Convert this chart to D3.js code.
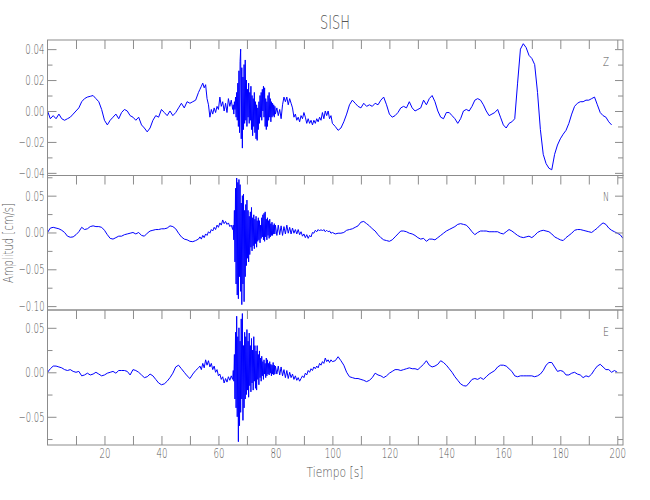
<!DOCTYPE html>
<html><head><meta charset="utf-8">
<script src="https://cdn.jsdelivr.net/npm/d3@7"></script>
<style>
html,body{margin:0;padding:0;background:#fff;}
svg{display:block;}
</style></head><body>
<svg id="chart" width="650" height="500"></svg>
<script>
// ---- sampling grid of the five segments (start time, step in s) ----
const segStart = [0, 53.5, 65.2, 80.5, 101];
const segStep  = [1, 0.5, 0.2, 0.5, 1];

// ---- Z component (cm/s) ----
const zQuiet = [0.000,-0.005,-0.003,-0.005,-0.002,-0.005,-0.006,-0.005,-0.004,-0.002,
0.000,0.002,0.006,0.008,0.009,0.0095,0.010,0.008,0.006,0.001,
-0.006,-0.009,-0.006,-0.004,-0.002,-0.005,-0.001,0.001,0.000,-0.003,
-0.004,-0.006,-0.004,-0.009,-0.011,-0.0135,-0.011,-0.006,-0.003,-0.004,
0.001,-0.001,-0.003,0.000,-0.003,-0.001,0.002,0.005,0.002,0.006,
0.005,0.006,0.007,0.012];
const zOnset = [0.014,0.016,0.018,0.015,0.017,0.008,0.004,-0.004,0.001,-0.002,0.002,-0.001,0.003,0.001,0.009,0.003,0.006,0.000,0.005,-0.001,0.008,0.003,0.007,0.001];
const zBurst = [0.004,-0.002,0.006,0.001,0.009,-0.004,0.012,-0.006,0.018,-0.010,
0.026,-0.014,0.032,0.040,-0.018,0.028,-0.024,0.022,-0.012,0.030,
-0.008,0.033,-0.006,0.020,-0.010,0.014,-0.004,0.018,-0.008,0.012,
-0.006,0.016,-0.012,0.010,-0.016,0.008,-0.010,0.012,-0.014,0.006,
-0.018,0.004,-0.019,0.002,-0.012,0.006,-0.008,0.010,-0.004,0.012,
-0.006,0.014,0.000,0.016,-0.004,0.015,-0.010,0.008,-0.012,0.006,
-0.010,0.010,-0.006,0.012,-0.004,0.008,-0.007,0.006,-0.004,0.005,
-0.003,0.004,-0.004,0.003,-0.002];
const zCoda = [0.002,-0.003,0.001,-0.005,0.004,0.009,0.006,0.009,0.004,0.008,
0.005,0.002,-0.004,-0.002,-0.006,-0.004,-0.007,-0.003,-0.005,-0.001,
-0.004,-0.008,-0.005,-0.008,-0.006,-0.009,-0.006,-0.008,-0.005,-0.007,
-0.004,-0.006,-0.001,-0.005,0.000,-0.003,0.000,-0.005,-0.003,-0.008];
const zLate = [-0.010,-0.0125,-0.011,-0.007,-0.002,0.004,0.007,0.005,0.003,0.002,
0.005,0.003,0.004,0.003,0.005,0.004,0.007,0.009,0.004,-0.002,
-0.004,-0.003,-0.001,0.002,0.003,0.002,0.006,0.002,0.000,0.001,
0.002,0.007,0.004,0.008,0.010,0.006,0.000,-0.004,-0.005,-0.001,
-0.001,-0.003,-0.005,-0.008,-0.005,0.000,0.001,0.000,0.003,0.007,
0.008,0.007,0.004,0.000,-0.003,-0.002,-0.001,0.001,-0.004,-0.009,
-0.011,-0.008,-0.007,-0.005,0.018,0.040,0.0435,0.041,0.036,0.034,
0.030,0.012,-0.012,-0.028,-0.034,-0.037,-0.038,-0.028,-0.022,-0.018,
-0.015,-0.0125,-0.008,-0.002,0.003,0.005,0.006,0.006,0.007,0.007,
0.008,0.009,0.004,-0.001,-0.003,-0.004,-0.007,-0.009];

// ---- N component ----
const nQuiet = [0.000,0.006,0.007,0.006,0.005,0.003,0.000,-0.005,-0.0065,-0.006,
-0.003,0.001,0.007,0.004,0.005,0.008,0.009,0.008,0.008,0.007,
0.003,-0.003,-0.008,-0.009,-0.007,-0.005,-0.005,-0.003,-0.002,-0.001,
0.000,-0.002,0.000,-0.004,-0.005,-0.001,0.002,0.003,0.004,0.004,
0.005,0.005,0.006,0.009,0.008,0.005,-0.001,-0.006,-0.009,-0.010,
-0.012,-0.0125,-0.011,-0.009];
const nOnset = [-0.006,-0.009,-0.004,-0.007,-0.002,-0.004,0.001,-0.001,0.004,0.002,0.007,0.004,0.010,0.007,0.013,0.010,0.017,0.012,0.015,0.011,0.013,0.008,0.010,0.004];
const nBurst = [0.010,-0.010,0.030,-0.040,0.060,-0.070,0.074,-0.085,0.068,-0.090,
0.072,-0.060,0.065,-0.080,0.040,-0.098,0.050,-0.070,0.052,-0.094,
0.030,-0.060,0.038,-0.045,0.044,-0.035,0.030,-0.040,0.022,-0.030,
0.028,-0.020,0.034,-0.025,0.020,-0.018,0.024,-0.022,0.018,-0.015,
0.022,-0.020,0.016,-0.012,0.020,-0.010,0.016,-0.014,0.010,-0.008,
0.020,-0.006,0.024,-0.010,0.026,-0.012,0.028,-0.006,0.018,-0.010,
0.020,-0.004,0.016,-0.008,0.018,-0.006,0.012,-0.004,0.014,-0.004,
0.010,-0.002,0.012,-0.002,0.010];
const nCoda = [-0.004,0.010,-0.003,0.009,-0.004,0.008,-0.002,0.010,-0.001,0.007,
-0.002,0.006,-0.001,0.004,-0.002,0.004,-0.003,0.001,-0.005,-0.002,
-0.007,-0.003,-0.008,-0.004,-0.006,0.000,-0.001,0.003,0.001,0.004,
0.002,0.004,0.002,0.004,0.001,0.003,0.001,0.002,-0.001,0.000];
const nLate = [-0.002,-0.001,-0.001,0.000,0.003,0.004,0.005,0.007,0.009,0.014,
0.015,0.012,0.009,0.005,0.002,-0.003,-0.007,-0.010,-0.011,-0.012,
-0.010,-0.006,-0.002,0.002,0.002,0.001,-0.001,-0.002,-0.004,-0.007,
-0.009,-0.008,-0.012,-0.009,-0.009,-0.010,-0.007,-0.004,-0.001,0.002,
0.004,0.006,0.008,0.011,0.012,0.011,0.010,0.006,0.001,-0.003,
0.000,0.002,0.002,0.002,0.001,0.001,0.001,0.001,-0.001,-0.002,
0.001,0.004,0.002,-0.001,-0.004,-0.006,-0.007,-0.006,-0.005,-0.007,
-0.004,0.000,0.002,0.003,0.002,0.001,-0.002,-0.006,-0.008,-0.010,
-0.011,-0.007,-0.004,-0.001,0.003,0.004,0.004,0.003,0.002,0.001,
0.000,0.003,0.006,0.010,0.013,0.011,0.006,0.003,0.001,-0.001,
-0.003,-0.008];

// ---- E component ----
const eQuiet = [0.000,0.004,0.007,0.007,0.006,0.005,0.003,0.002,0.003,0.001,
0.000,0.001,-0.004,-0.003,-0.001,-0.003,-0.002,0.000,-0.002,-0.004,
-0.003,-0.001,0.000,0.001,-0.001,0.002,0.002,0.002,0.001,-0.003,
0.003,0.002,0.000,-0.003,-0.006,-0.005,-0.002,-0.004,-0.008,-0.012,
-0.014,-0.013,-0.010,-0.006,-0.001,0.006,0.008,0.004,0.000,-0.004,
-0.007,-0.002,0.002,0.005];
const eOnset = [0.007,0.003,0.010,0.005,0.014,0.008,0.013,0.006,0.010,0.003,0.007,0.000,0.003,-0.004,-0.002,-0.008,-0.005,-0.012,-0.007,-0.011,-0.005,-0.009,-0.004,-0.008];
const eBurst = [0.002,-0.010,0.020,-0.030,0.045,-0.040,0.063,-0.050,0.040,-0.078,
0.050,-0.060,0.035,-0.045,0.060,-0.030,0.066,-0.054,0.030,-0.040,
0.045,-0.030,0.040,-0.025,0.048,-0.020,0.035,-0.028,0.044,-0.015,
0.030,-0.022,0.038,-0.012,0.025,-0.020,0.040,-0.010,0.030,-0.018,
0.024,-0.020,0.030,-0.008,0.020,-0.014,0.024,-0.006,0.016,-0.010,
0.018,-0.004,0.012,-0.008,0.014,-0.002,0.010,-0.006,0.016,-0.004,
0.014,-0.002,0.010,-0.003,0.012,-0.001,0.009,-0.004,0.008,-0.002,
0.011,-0.003,0.008,-0.002,0.007];
const eCoda = [-0.002,0.007,-0.003,0.006,-0.004,0.003,-0.006,0.002,-0.007,0.000,
-0.006,-0.002,-0.008,-0.004,-0.009,-0.006,-0.010,-0.007,-0.004,-0.006,
-0.001,-0.003,0.002,0.000,0.004,0.002,0.006,0.004,0.007,0.005,
0.010,0.008,0.012,0.010,0.016,0.012,0.014,0.011,0.014,0.012];
const eLate = [0.013,0.0175,0.013,0.008,0.000,-0.005,-0.006,-0.007,-0.007,-0.008,
-0.009,-0.0105,-0.009,-0.006,-0.001,-0.003,-0.004,-0.006,-0.004,-0.001,
0.001,0.003,0.003,0.002,0.003,0.004,0.005,0.004,0.004,0.003,
0.006,0.009,0.013,0.008,0.006,0.007,0.009,0.013,0.011,0.008,
0.004,0.000,-0.005,-0.009,-0.013,-0.015,-0.0155,-0.012,-0.008,-0.007,
-0.008,-0.006,-0.008,-0.005,-0.002,0.000,0.002,0.006,0.008,0.008,
0.007,0.004,0.001,-0.004,-0.005,-0.004,-0.004,-0.004,-0.004,-0.004,
-0.005,-0.004,-0.002,0.002,0.008,0.011,0.011,0.006,0.001,0.002,
0.001,-0.003,-0.003,-0.001,0.000,-0.002,-0.003,-0.006,-0.004,-0.005,
-0.002,0.003,0.007,0.009,0.006,0.003,0.003,0.000,0.002,0.000];

// ---- axes ticks / labels ----
const componentNames = ["Z", "N", "E"];
const xMajorTicks = [20, 40, 60, 80, 100, 120, 140, 160, 180, 200];
const xMinorTicks = [10, 30, 50, 70, 90, 110, 130, 150, 170, 190];
const zMajorTicks = [0.04, 0.02, 0, -0.02, -0.04];
const zMinorTicks = [0.03, 0.01, -0.01, -0.03];
const nMajorTicks = [0.05, 0, -0.05, -0.10];
const nMinorTicks = [0.075, 0.025, -0.025, -0.075];
const eMajorTicks = [0.05, 0, -0.05];
const eMinorTicks = [0.025, -0.025, -0.075];
const titleText = "SISH";
const xTitle = "Tiempo [s]";
const yTitle = "Amplitud [cm/s]";

// ---- drawing ----
const FONT = '"DejaVu Sans ExtraLight","DejaVu Sans",sans-serif';
const FW = 200;
const AXC = "#8c8c8c", TXC = "#555555";
const svg = d3.select("#chart");
const L = 47.5, R = 623;
const x = d3.scaleLinear().domain([0, 202]).range([L, R]);

function build(segs) {
  const pts = [];
  segs.forEach((arr, k) => arr.forEach((v, i) => pts.push([segStart[k] + i * segStep[k], v])));
  return pts;
}
// narrow, stroke-font-like widths
function numWidth(s) {
  let w = 0;
  for (const c of s) w += (c === "." ? 2.7 : c === "\u2212" ? 6.6 : 5.5);
  return w;
}
function fit(sel, w) {
  sel.attr("textLength", w).attr("lengthAdjust", "spacingAndGlyphs");
}

const panels = [
  {name: componentNames[0], segs: [zQuiet, zOnset, zBurst, zCoda, zLate], top: 40, bottom: 175.5, domain: [-0.0417, 0.0459], major: zMajorTicks, minor: zMinorTicks, labelY: 66},
  {name: componentNames[1], segs: [nQuiet, nOnset, nBurst, nCoda, nLate], top: 175.5, bottom: 310, domain: [-0.1053, 0.0774], major: nMajorTicks, minor: nMinorTicks, labelY: 201},
  {name: componentNames[2], segs: [eQuiet, eOnset, eBurst, eCoda, eLate], top: 310, bottom: 445, domain: [-0.0817, 0.0700], major: eMajorTicks, minor: eMinorTicks, labelY: 336}
];

const fmt = v => d3.format(".2f")(v).replace("-", "\u2212");

function styleAxis(g) {
  g.select(".domain").remove();
  g.selectAll("line").attr("stroke", AXC).attr("stroke-width", 1);
  g.selectAll("text").attr("fill", TXC).attr("font-family", FONT).attr("font-weight", FW).attr("font-size", 14)
    .each(function() { const s = this.textContent; if (s) fit(d3.select(this), numWidth(s)); });
}

panels.forEach((p, idx) => {
  const y = d3.scaleLinear().domain(p.domain).range([p.bottom, p.top]);
  const clipId = "clip" + idx;
  svg.append("clipPath").attr("id", clipId).append("rect")
    .attr("x", L).attr("y", p.top).attr("width", R - L).attr("height", p.bottom - p.top);

  const line = d3.line().x(d => x(d[0])).y(d => y(d[1]));
  svg.append("path").datum(build(p.segs))
    .attr("clip-path", `url(#${clipId})`)
    .attr("fill", "none").attr("stroke", "#0000ff").attr("stroke-width", 1)
    .attr("stroke-linejoin", "round")
    .attr("d", line);

  svg.append("g").attr("transform", `translate(${L},0)`)
    .call(d3.axisLeft(y).tickValues(p.major).tickSize(-9).tickPadding(3).tickFormat(fmt)).call(styleAxis);
  svg.append("g").attr("transform", `translate(${L},0)`)
    .call(d3.axisLeft(y).tickValues(p.minor).tickSize(-5).tickFormat("")).call(styleAxis);
  svg.append("g").attr("transform", `translate(${R},0)`)
    .call(d3.axisRight(y).tickValues(p.major).tickSize(-8).tickFormat("")).call(styleAxis);
  svg.append("g").attr("transform", `translate(${R},0)`)
    .call(d3.axisRight(y).tickValues(p.minor).tickSize(-5).tickFormat("")).call(styleAxis);
  svg.append("g").attr("transform", `translate(0,${p.top})`)
    .call(d3.axisTop(x).tickValues(xMajorTicks.concat(xMinorTicks)).tickSize(-9).tickFormat("")).call(styleAxis);
  if (idx === panels.length - 1) {
    svg.append("g").attr("transform", `translate(0,${p.bottom})`)
      .call(d3.axisBottom(x).tickValues(xMajorTicks).tickSize(-9).tickPadding(3).tickFormat(d3.format("d"))).call(styleAxis);
    svg.append("g").attr("transform", `translate(0,${p.bottom})`)
      .call(d3.axisBottom(x).tickValues(xMinorTicks).tickSize(-9).tickFormat("")).call(styleAxis);
  }
  svg.append("rect").attr("x", L).attr("y", p.top).attr("width", R - L).attr("height", p.bottom - p.top)
    .attr("fill", "none").attr("stroke", AXC).attr("stroke-width", 1);
  svg.append("text").attr("x", 606).attr("y", p.labelY).attr("text-anchor", "middle")
    .attr("font-family", FONT).attr("font-weight", FW).attr("font-size", 13).attr("fill", TXC)
    .call(fit, 6).text(p.name);
});

svg.append("text").attr("x", 335).attr("y", 29).attr("text-anchor", "middle")
  .attr("font-family", FONT).attr("font-weight", FW).attr("font-size", 20).attr("fill", TXC)
  .call(fit, 30).text(titleText);
svg.append("text").attr("x", 335).attr("y", 477).attr("text-anchor", "middle")
  .attr("font-family", FONT).attr("font-weight", FW).attr("font-size", 14).attr("fill", TXC)
  .call(fit, 57).text(xTitle);
svg.append("text").attr("transform", "translate(13,243) rotate(-90)").attr("text-anchor", "middle")
  .attr("font-family", FONT).attr("font-weight", FW).attr("font-size", 14).attr("fill", TXC)
  .call(fit, 80).text(yTitle);
</script>
</body></html>
